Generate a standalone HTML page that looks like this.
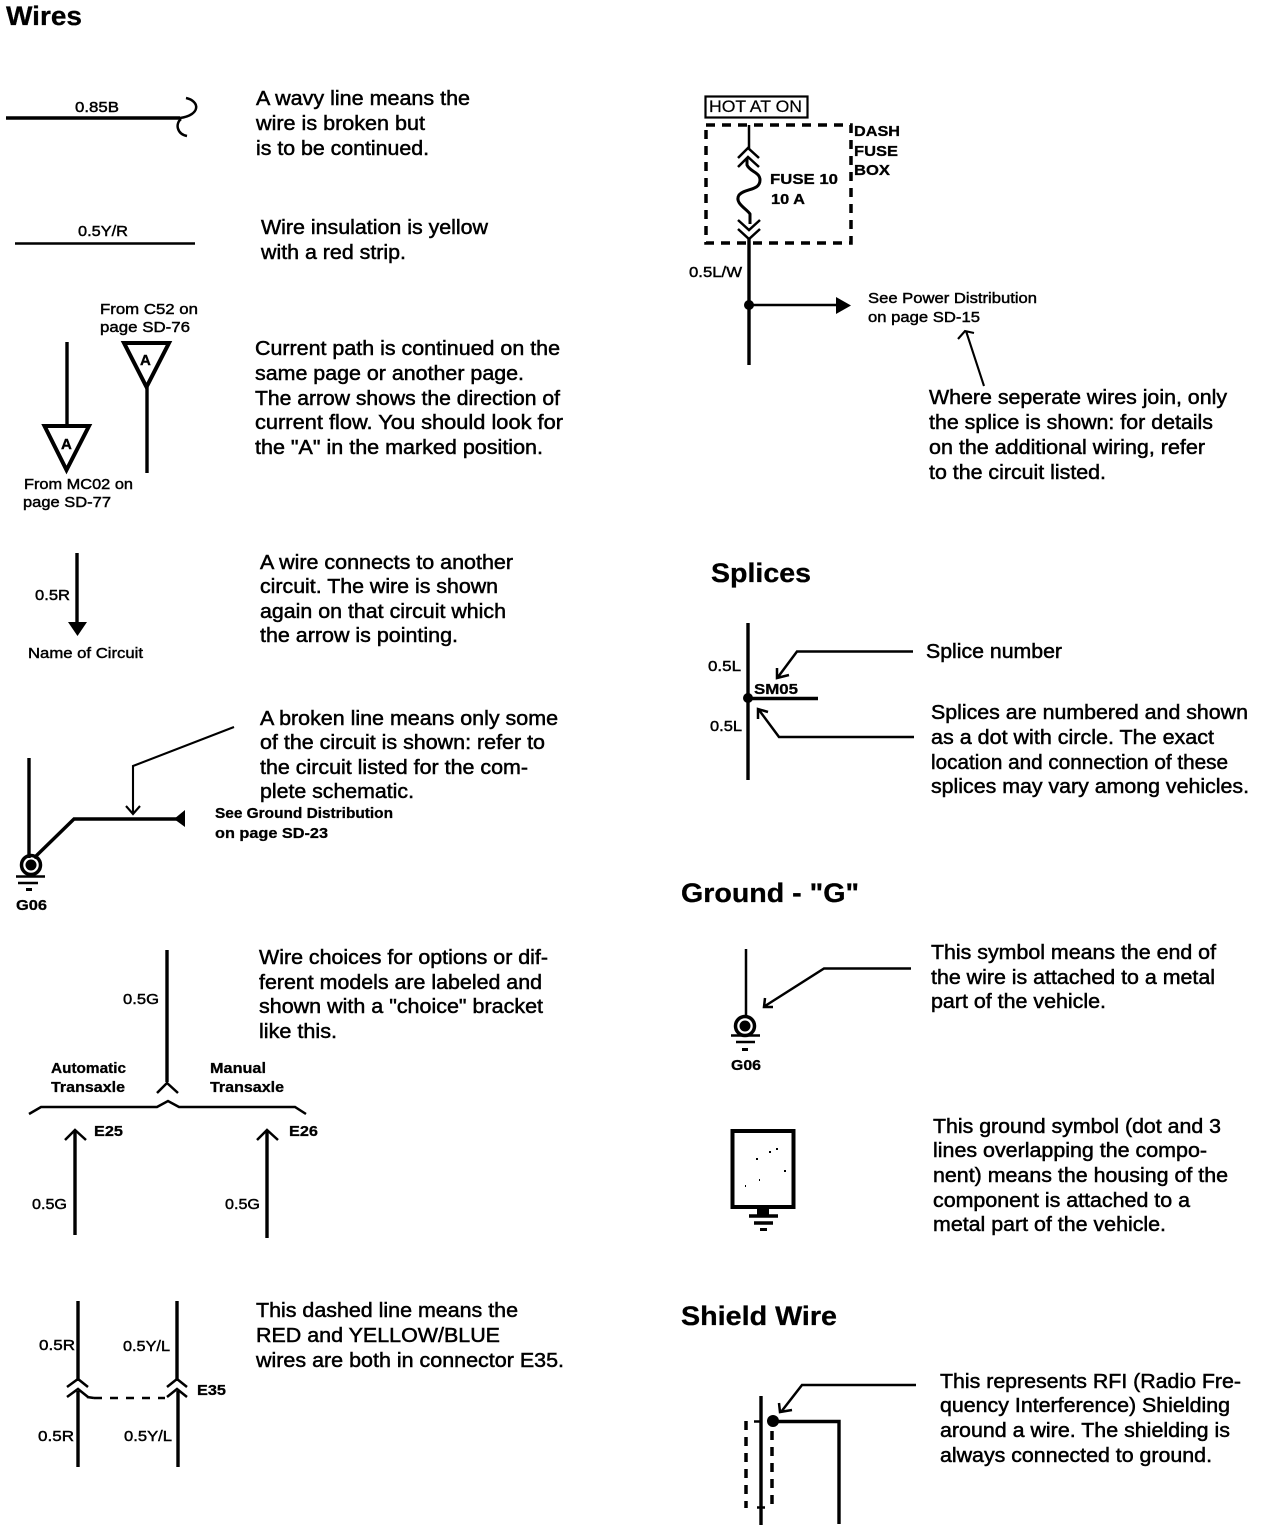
<!DOCTYPE html>
<html><head><meta charset="utf-8"><style>
html,body{margin:0;padding:0;background:#fff}
svg{display:block}
text{font-family:"Liberation Sans",sans-serif;fill:#000}
.b text{font-size:20px;stroke:#000;stroke-width:.5}
.h text{font-size:27px;font-weight:bold;stroke:#000;stroke-width:.3}
.s text{font-size:15px;stroke:#000;stroke-width:.45}
.sb text{font-size:15px;font-weight:bold;stroke:#000;stroke-width:.3}
.l{fill:none;stroke:#000;stroke-width:3.4}
.m{fill:none;stroke:#000;stroke-width:2.5}
.t{fill:none;stroke:#000;stroke-width:2.1}
.f{fill:#000}
</style></head><body>
<svg width="1264" height="1532" viewBox="0 0 1264 1532" xmlns="http://www.w3.org/2000/svg">
<g class="h">
<text x="6" y="25" textLength="76" lengthAdjust="spacingAndGlyphs">Wires</text>
<text x="711" y="582" textLength="100" lengthAdjust="spacingAndGlyphs">Splices</text>
<text x="681" y="902" textLength="178" lengthAdjust="spacingAndGlyphs">Ground - "G"</text>
<text x="681" y="1325" textLength="156" lengthAdjust="spacingAndGlyphs">Shield Wire</text>
</g>
<g class="b">
<text x="256" y="105" textLength="214" lengthAdjust="spacingAndGlyphs">A wavy line means the</text>
<text x="256" y="130" textLength="169" lengthAdjust="spacingAndGlyphs">wire is broken but</text>
<text x="256" y="155" textLength="173" lengthAdjust="spacingAndGlyphs">is to be continued.</text>
<text x="261" y="234" textLength="227" lengthAdjust="spacingAndGlyphs">Wire insulation is yellow</text>
<text x="261" y="259" textLength="145" lengthAdjust="spacingAndGlyphs">with a red strip.</text>
<text x="255" y="355" textLength="305" lengthAdjust="spacingAndGlyphs">Current path is continued on the</text>
<text x="255" y="380" textLength="269" lengthAdjust="spacingAndGlyphs">same page or another page.</text>
<text x="255" y="405" textLength="305" lengthAdjust="spacingAndGlyphs">The arrow shows the direction of</text>
<text x="255" y="429" textLength="308" lengthAdjust="spacingAndGlyphs">current flow. You should look for</text>
<text x="255" y="454" textLength="288" lengthAdjust="spacingAndGlyphs">the "A" in the marked position.</text>
<text x="260" y="569" textLength="253" lengthAdjust="spacingAndGlyphs">A wire connects to another</text>
<text x="260" y="593" textLength="238" lengthAdjust="spacingAndGlyphs">circuit. The wire is shown</text>
<text x="260" y="618" textLength="246" lengthAdjust="spacingAndGlyphs">again on that circuit which</text>
<text x="260" y="642" textLength="198" lengthAdjust="spacingAndGlyphs">the arrow is pointing.</text>
<text x="260" y="725" textLength="298" lengthAdjust="spacingAndGlyphs">A broken line means only some</text>
<text x="260" y="749" textLength="285" lengthAdjust="spacingAndGlyphs">of the circuit is shown: refer to</text>
<text x="260" y="774" textLength="268" lengthAdjust="spacingAndGlyphs">the circuit listed for the com-</text>
<text x="260" y="798" textLength="154" lengthAdjust="spacingAndGlyphs">plete schematic.</text>
<text x="259" y="964" textLength="289" lengthAdjust="spacingAndGlyphs">Wire choices for options or dif-</text>
<text x="259" y="989" textLength="283" lengthAdjust="spacingAndGlyphs">ferent models are labeled and</text>
<text x="259" y="1013" textLength="284" lengthAdjust="spacingAndGlyphs">shown with a "choice" bracket</text>
<text x="259" y="1038" textLength="78" lengthAdjust="spacingAndGlyphs">like this.</text>
<text x="256" y="1317" textLength="262" lengthAdjust="spacingAndGlyphs">This dashed line means the</text>
<text x="256" y="1342" textLength="244" lengthAdjust="spacingAndGlyphs">RED and YELLOW/BLUE</text>
<text x="256" y="1367" textLength="308" lengthAdjust="spacingAndGlyphs">wires are both in connector E35.</text>
<text x="929" y="404" textLength="298" lengthAdjust="spacingAndGlyphs">Where seperate wires join, only</text>
<text x="929" y="429" textLength="284" lengthAdjust="spacingAndGlyphs">the splice is shown: for details</text>
<text x="929" y="454" textLength="276" lengthAdjust="spacingAndGlyphs">on the additional wiring, refer</text>
<text x="929" y="479" textLength="177" lengthAdjust="spacingAndGlyphs">to the circuit listed.</text>
<text x="926" y="658" textLength="136" lengthAdjust="spacingAndGlyphs">Splice number</text>
<text x="931" y="719" textLength="317" lengthAdjust="spacingAndGlyphs">Splices are numbered and shown</text>
<text x="931" y="744" textLength="283" lengthAdjust="spacingAndGlyphs">as a dot with circle. The exact</text>
<text x="931" y="769" textLength="297" lengthAdjust="spacingAndGlyphs">location and connection of these</text>
<text x="931" y="793" textLength="318" lengthAdjust="spacingAndGlyphs">splices may vary among vehicles.</text>
<text x="931" y="959" textLength="285" lengthAdjust="spacingAndGlyphs">This symbol means the end of</text>
<text x="931" y="984" textLength="284" lengthAdjust="spacingAndGlyphs">the wire is attached to a metal</text>
<text x="931" y="1008" textLength="175" lengthAdjust="spacingAndGlyphs">part of the vehicle.</text>
<text x="933" y="1133" textLength="288" lengthAdjust="spacingAndGlyphs">This ground symbol (dot and 3</text>
<text x="933" y="1157" textLength="274" lengthAdjust="spacingAndGlyphs">lines overlapping the compo-</text>
<text x="933" y="1182" textLength="295" lengthAdjust="spacingAndGlyphs">nent) means the housing of the</text>
<text x="933" y="1207" textLength="257" lengthAdjust="spacingAndGlyphs">component is attached to a</text>
<text x="933" y="1231" textLength="233" lengthAdjust="spacingAndGlyphs">metal part of the vehicle.</text>
<text x="940" y="1388" textLength="301" lengthAdjust="spacingAndGlyphs">This represents RFI (Radio Fre-</text>
<text x="940" y="1412" textLength="290" lengthAdjust="spacingAndGlyphs">quency Interference) Shielding</text>
<text x="940" y="1437" textLength="290" lengthAdjust="spacingAndGlyphs">around a wire. The shielding is</text>
<text x="940" y="1462" textLength="272" lengthAdjust="spacingAndGlyphs">always connected to ground.</text>
</g>
<g class="s">
<text x="75" y="112" textLength="44" lengthAdjust="spacingAndGlyphs">0.85B</text>
<text x="78" y="236" textLength="50" lengthAdjust="spacingAndGlyphs">0.5Y/R</text>
<text x="100" y="314" textLength="98" lengthAdjust="spacingAndGlyphs">From C52 on</text>
<text x="100" y="332" textLength="90" lengthAdjust="spacingAndGlyphs">page SD-76</text>
<text x="24" y="489" textLength="109" lengthAdjust="spacingAndGlyphs">From MC02 on</text>
<text x="23" y="507" textLength="88" lengthAdjust="spacingAndGlyphs">page SD-77</text>
<text x="35" y="600" textLength="35" lengthAdjust="spacingAndGlyphs">0.5R</text>
<text x="28" y="658" textLength="115" lengthAdjust="spacingAndGlyphs">Name of Circuit</text>
<text x="123" y="1004" textLength="36" lengthAdjust="spacingAndGlyphs">0.5G</text>
<text x="32" y="1209" textLength="35" lengthAdjust="spacingAndGlyphs">0.5G</text>
<text x="225" y="1209" textLength="35" lengthAdjust="spacingAndGlyphs">0.5G</text>
<text x="39" y="1350" textLength="36" lengthAdjust="spacingAndGlyphs">0.5R</text>
<text x="123" y="1351" textLength="47" lengthAdjust="spacingAndGlyphs">0.5Y/L</text>
<text x="38" y="1441" textLength="36" lengthAdjust="spacingAndGlyphs">0.5R</text>
<text x="124" y="1441" textLength="48" lengthAdjust="spacingAndGlyphs">0.5Y/L</text>
<text x="689" y="277" textLength="53" lengthAdjust="spacingAndGlyphs">0.5L/W</text>
<text x="868" y="303" textLength="169" lengthAdjust="spacingAndGlyphs">See Power Distribution</text>
<text x="868" y="322" textLength="112" lengthAdjust="spacingAndGlyphs">on page SD-15</text>
<text x="708" y="671" textLength="33" lengthAdjust="spacingAndGlyphs">0.5L</text>
<text x="710" y="731" textLength="32" lengthAdjust="spacingAndGlyphs">0.5L</text>
<text x="709" y="112" textLength="93" lengthAdjust="spacingAndGlyphs" style="font-size:17px;stroke-width:.2">HOT AT ON</text>
</g>
<g class="sb">
<text x="215" y="818" textLength="178" lengthAdjust="spacingAndGlyphs">See Ground Distribution</text>
<text x="215" y="838" textLength="113" lengthAdjust="spacingAndGlyphs">on page SD-23</text>
<text x="16" y="910" textLength="31" lengthAdjust="spacingAndGlyphs">G06</text>
<text x="51" y="1073" textLength="75" lengthAdjust="spacingAndGlyphs">Automatic</text>
<text x="51" y="1092" textLength="74" lengthAdjust="spacingAndGlyphs">Transaxle</text>
<text x="210" y="1073" textLength="56" lengthAdjust="spacingAndGlyphs">Manual</text>
<text x="210" y="1092" textLength="74" lengthAdjust="spacingAndGlyphs">Transaxle</text>
<text x="94" y="1136" textLength="29" lengthAdjust="spacingAndGlyphs">E25</text>
<text x="289" y="1136" textLength="29" lengthAdjust="spacingAndGlyphs">E26</text>
<text x="197" y="1395" textLength="29" lengthAdjust="spacingAndGlyphs">E35</text>
<text x="854" y="136" textLength="46" lengthAdjust="spacingAndGlyphs">DASH</text>
<text x="854" y="156" textLength="44" lengthAdjust="spacingAndGlyphs">FUSE</text>
<text x="854" y="175" textLength="36" lengthAdjust="spacingAndGlyphs">BOX</text>
<text x="770" y="184" textLength="68" lengthAdjust="spacingAndGlyphs">FUSE 10</text>
<text x="771" y="204" textLength="34" lengthAdjust="spacingAndGlyphs">10 A</text>
<text x="754" y="694" textLength="44" lengthAdjust="spacingAndGlyphs">SM05</text>
<text x="731" y="1070" textLength="30" lengthAdjust="spacingAndGlyphs">G06</text>
</g>

<!-- wavy wire -->
<path class="l" d="M6 118H180"/>
<path class="m" d="M186 98C200 101 201 115 180 118"/>
<path class="m" d="M187 136C177 134 175 124 181 119"/>
<path class="m" d="M15 243.500H195"/>

<!-- A triangles -->
<path class="l" d="M67 342V425"/>
<path d="M44.500 426H89L66.500 470Z" fill="#fff" stroke="#000" stroke-width="4"/>
<text x="61" y="449" style="font-size:15px;font-weight:bold;stroke:#000;stroke-width:.4">A</text>
<path d="M124 343H169L146.500 387Z" fill="#fff" stroke="#000" stroke-width="4"/>
<text x="140" y="365" style="font-size:15px;font-weight:bold;stroke:#000;stroke-width:.4">A</text>
<path class="l" d="M147 387V473"/>

<!-- circuit arrow -->
<path class="l" d="M77 553V625"/>
<path class="f" d="M68 622H87L77.500 636Z"/>

<!-- broken line -->
<path class="l" d="M29 758V858"/>
<path class="l" d="M34 858L74 819H178"/>
<path class="f" d="M185 810V827L174 819Z"/>
<path class="t" d="M234 727L133 766V814M126 806L133 814L140 806"/>
<circle cx="31" cy="865" r="9.500" fill="none" stroke="#000" stroke-width="3.500"/>
<circle cx="31" cy="865" r="5.500" class="f"/>
<path class="m" d="M16 876.500H45M18 883H38"/>
<rect x="26" y="888" width="6" height="3" class="f"/>

<!-- choice bracket -->
<path class="l" d="M167 950V1082"/>
<path class="m" d="M157 1093L167 1083L178 1093"/>
<path class="m" d="M29 1114L41 1107H157L168 1101L179 1107H295L306 1114"/>
<path class="l" d="M75 1130V1235"/>
<path class="m" d="M65 1140L75 1130L86 1140"/>
<path class="l" d="M267 1130V1238"/>
<path class="m" d="M257 1140L267 1130L278 1140"/>

<!-- dashed connector -->
<path class="l" d="M78 1301V1381M78 1391V1467"/>
<path class="l" d="M177 1301V1381M178 1391V1467"/>
<path class="m" d="M67 1387L78 1379L88 1387M67 1397L78 1389L88 1397"/>
<path class="m" d="M167 1387L177 1379L187 1387M167 1397L177 1389L187 1397"/>
<path class="m" d="M87 1397L94 1398"/>
<path class="m" d="M94 1398H165" stroke-dasharray="8 8"/>

<!-- fuse -->
<rect x="705.500" y="96.500" width="102" height="21" fill="none" stroke="#000" stroke-width="2.200"/>
<path d="M706 125H851V243H706Z" fill="none" stroke="#000" stroke-width="3.500" stroke-dasharray="9 7"/>
<path class="m" d="M749 125V149"/>
<path class="m" d="M738 158L748 148L759 158M738 167L748 157L759 167"/>
<path d="M747 158V165C750 172 760 172 760 180C760 191 745 188 739 195C734 203 747 209 750 214V224" fill="none" stroke="#000" stroke-width="3"/>
<path class="m" d="M738 220L749 230L760 220M738 229L749 239L760 229"/>
<path class="l" d="M749 238V365"/>
<circle cx="749" cy="305" r="5" class="f"/>
<path class="m" d="M749 305H838"/>
<path class="f" d="M836 297V314L851 305.500Z"/>
<path class="t" d="M984 386L966 331M958 339L965 331L974 333"/>

<!-- splice -->
<path class="l" d="M748 623V780"/>
<circle cx="748" cy="698" r="5" class="f"/>
<path class="l" d="M748 698.500H818"/>
<path class="m" d="M913 651.500H797L778 677M777 668L777 678L789 675"/>
<path class="m" d="M914 737H779L759 710M758 719L758 709L768 712"/>

<!-- ground -->
<path class="m" d="M746 949V1015"/>
<circle cx="745" cy="1026" r="9.500" fill="none" stroke="#000" stroke-width="3.500"/>
<circle cx="745" cy="1026" r="5.500" class="f"/>
<path class="m" d="M731 1035.500H760M736 1042H755"/>
<rect x="742" y="1048" width="6" height="3" class="f"/>
<path class="m" d="M911 968.500H824L765 1006M765 998L764 1007L773 1007"/>

<!-- housing -->
<rect x="732.500" y="1131" width="61" height="76" fill="none" stroke="#000" stroke-width="4"/>
<rect x="757" y="1208" width="12" height="7" class="f"/>
<path class="l" d="M749 1216H778"/>
<path class="l" d="M754 1223H773"/>
<rect x="760" y="1228" width="7" height="3" class="f"/>
<g class="f"><rect x="756" y="1158" width="2" height="2"/><rect x="769" y="1151" width="2" height="2"/><rect x="776" y="1148" width="2" height="2"/><rect x="784" y="1170" width="2" height="2"/><rect x="759" y="1179" width="1" height="2"/><rect x="745" y="1185" width="1" height="2"/></g>

<!-- shield -->
<path class="l" d="M761 1396V1525"/>
<path d="M746 1421V1508" fill="none" stroke="#000" stroke-width="3.500" stroke-dasharray="9 7"/>
<path d="M772 1431V1508" fill="none" stroke="#000" stroke-width="3.500" stroke-dasharray="9 7"/>
<path class="m" d="M754 1421.500H760M757 1507.500H765"/>
<circle cx="773" cy="1421" r="6" class="f"/>
<path class="l" d="M773 1421.500H839V1524"/>
<path class="m" d="M916 1385H802L781 1412M779 1403L780 1412L792 1410"/>
</svg>
</body></html>
